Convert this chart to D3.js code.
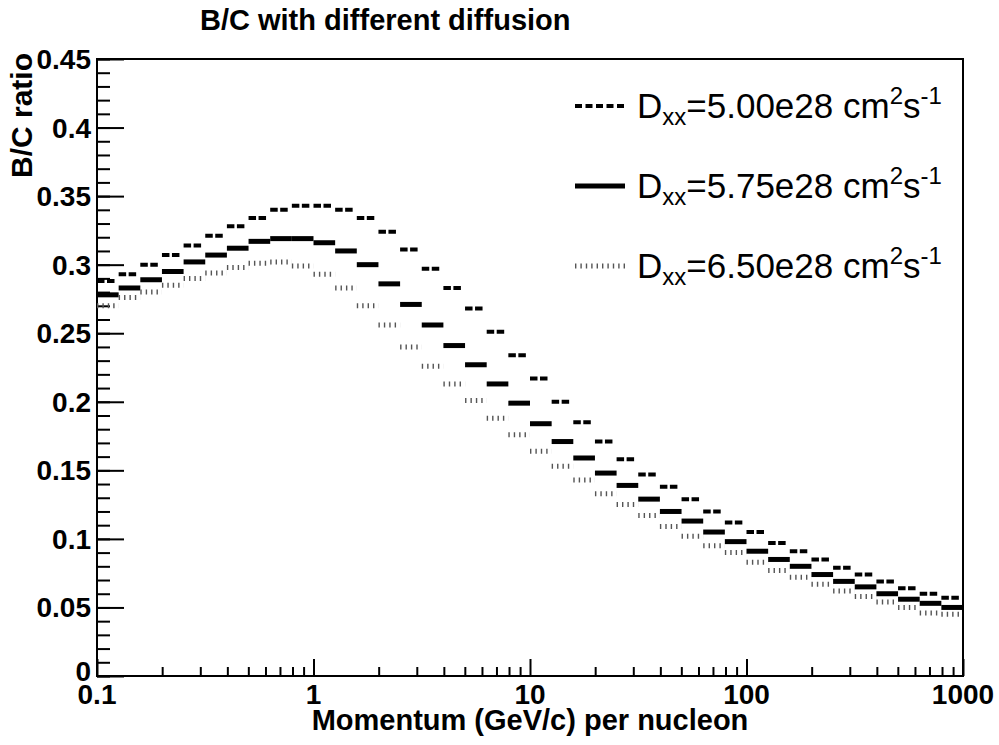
<!DOCTYPE html>
<html lang="en">
<head>
<meta charset="UTF-8">
<title>B/C with different diffusion</title>
<script src="https://d3js.org/d3.v7.min.js"></script>
<style>
    body { margin: 0; background: #fff; }
    svg { display: block; }
    text { font-family: "Liberation Sans", Arial, Helvetica, sans-serif; fill: #000; }
    .bold { font-weight: bold; }
</style>
</head>
<body>
<svg id="svg_main"></svg>
<script>
    // B/C ratio per momentum bin, 10 log bins per decade from 0.1 to 1000 GeV/c
    const bcD500 = [0.288, 0.293, 0.300, 0.307, 0.314, 0.321, 0.328, 0.334, 0.340, 0.343,
                    0.343, 0.340, 0.334, 0.324, 0.311, 0.297, 0.283, 0.268, 0.251, 0.234,
                    0.217, 0.200, 0.185, 0.171, 0.158, 0.147, 0.138, 0.129, 0.120, 0.112,
                    0.105, 0.097, 0.091, 0.085, 0.079, 0.074, 0.069, 0.064, 0.060, 0.057];
    const bcD575 = [0.278, 0.283, 0.289, 0.295, 0.302, 0.307, 0.312, 0.317, 0.319, 0.319,
                    0.316, 0.310, 0.300, 0.286, 0.271, 0.256, 0.241, 0.227, 0.213, 0.199,
                    0.184, 0.171, 0.159, 0.148, 0.139, 0.129, 0.120, 0.113, 0.105, 0.098,
                    0.091, 0.085, 0.080, 0.074, 0.069, 0.065, 0.060, 0.056, 0.053, 0.050];
    const bcD650 = [0.270, 0.276, 0.280, 0.285, 0.290, 0.294, 0.298, 0.301, 0.302, 0.299,
                    0.293, 0.283, 0.270, 0.256, 0.240, 0.226, 0.213, 0.201, 0.188, 0.176,
                    0.164, 0.153, 0.143, 0.133, 0.125, 0.117, 0.109, 0.102, 0.095, 0.090,
                    0.083, 0.077, 0.072, 0.067, 0.062, 0.058, 0.054, 0.050, 0.046, 0.045];
    const dxxLabels = ["5.00e28", "5.75e28", "6.50e28"];
    const xTicks = [0.1, 1, 10, 100, 1000];
    const xTickLabels = ["0.1", "1", "10", "100", "1000"];
    const yTicks = [0, 0.05, 0.1, 0.15, 0.2, 0.25, 0.3, 0.35, 0.4, 0.45];
    const yTickLabels = ["0", "0.05", "0.1", "0.15", "0.2", "0.25", "0.3", "0.35", "0.4", "0.45"];

    const width = 999, height = 745;
    const frameL = 97, frameR = 963, frameT = 59, frameB = 676;
    const pMin = 0.1, pMax = 1000, nBins = bcD500.length;

    const svg = d3.select("#svg_main").attr("width", width).attr("height", height);

    const x = d3.scaleLog().domain([pMin, pMax]).range([frameL, frameR]);
    const y = d3.scaleLinear().domain([0, 0.45]).range([frameB, frameT]);

    // bin edges, evenly spaced in log p
    const logStep = (Math.log10(pMax) - Math.log10(pMin)) / nBins;
    const binLo = i => Math.pow(10, Math.log10(pMin) + i * logStep);
    const binHi = i => Math.pow(10, Math.log10(pMin) + (i + 1) * logStep);

    const styles = [
        { data: bcD500, width: 4, dash: "7.5,2.5,7.5,4.2", legendDash: "7,3.5", color: "#000" },
        { data: bcD575, width: 5, dash: null, legendDash: null, color: "#000" },
        { data: bcD650, width: 5, dash: "1.4,4", legendDash: "1.4,4", color: "#555" }
    ];

    // minor ticks
    const xMinor = [];
    [0.1, 1, 10, 100].forEach(d => { for (let k = 2; k <= 9; k++) xMinor.push(d * k); });
    const yMinor = d3.range(0, 46).map(d => d / 100);

    svg.append("g").attr("transform", `translate(0,${frameB})`)
        .call(d3.axisBottom(x).tickValues(xMinor).tickSize(-9).tickFormat(""))
        .call(g => g.select(".domain").remove());
    svg.append("g").attr("transform", `translate(0,${frameB})`)
        .call(d3.axisBottom(x).tickValues(xTicks).tickSize(-17).tickFormat(""))
        .call(g => g.select(".domain").remove());
    svg.append("g").attr("transform", `translate(${frameL},0)`)
        .call(d3.axisLeft(y).tickValues(yMinor).tickSize(-13).tickFormat(""))
        .call(g => g.select(".domain").remove());
    svg.append("g").attr("transform", `translate(${frameL},0)`)
        .call(d3.axisLeft(y).tickValues(yTicks).tickSize(-27).tickFormat(""))
        .call(g => g.select(".domain").remove());
    svg.selectAll(".tick line").attr("stroke", "#000").attr("stroke-width", 2);

    // frame
    svg.append("rect")
        .attr("x", frameL).attr("y", frameT)
        .attr("width", frameR - frameL).attr("height", frameB - frameT)
        .attr("fill", "none").attr("stroke", "#000").attr("stroke-width", 2);

    // histogram bins as horizontal segments
    styles.forEach(s => {
        svg.append("g").selectAll("line")
            .data(s.data)
            .enter()
            .append("line")
            .attr("x1", (d, i) => x(binLo(i)))
            .attr("x2", (d, i) => x(binHi(i)))
            .attr("y1", d => y(d))
            .attr("y2", d => y(d))
            .attr("stroke", s.color)
            .attr("stroke-width", s.width)
            .attr("stroke-dasharray", s.dash);
    });

    // tick labels
    svg.append("g").selectAll("text")
        .data(xTicks)
        .enter()
        .append("text")
        .attr("class", "bold")
        .attr("x", d => x(d))
        .attr("y", 704)
        .attr("text-anchor", "middle")
        .attr("font-size", 28)
        .text((d, i) => xTickLabels[i]);

    svg.append("g").selectAll("text")
        .data(yTicks)
        .enter()
        .append("text")
        .attr("class", "bold")
        .attr("x", 91)
        .attr("y", d => y(d) + (d === 0 ? 5 : 10))
        .attr("text-anchor", "end")
        .attr("font-size", 28)
        .text((d, i) => yTickLabels[i]);

    // titles
    svg.append("text").attr("class", "bold")
        .attr("x", 200).attr("y", 30)
        .attr("font-size", 29)
        .text("B/C with different diffusion");

    svg.append("text").attr("class", "bold")
        .attr("x", (frameL + frameR) / 2).attr("y", 730)
        .attr("text-anchor", "middle")
        .attr("font-size", 29)
        .text("Momentum (GeV/c) per nucleon");

    svg.append("text").attr("class", "bold")
        .attr("transform", "translate(32,53) rotate(-90)")
        .attr("text-anchor", "end")
        .attr("font-size", 30)
        .text("B/C ratio");

    // legend
    const legendY = [106, 186, 266];
    const legend = svg.append("g");
    styles.forEach((s, i) => {
        legend.append("line")
            .attr("x1", 575).attr("x2", 625)
            .attr("y1", legendY[i]).attr("y2", legendY[i])
            .attr("stroke", s.color)
            .attr("stroke-width", s.width)
            .attr("stroke-dasharray", s.legendDash);

        const t = legend.append("text")
            .attr("x", 637).attr("y", legendY[i] + 12)
            .attr("font-size", 35);
        t.append("tspan").text("D");
        t.append("tspan").attr("dy", 7).attr("font-size", 24).text("xx");
        t.append("tspan").attr("dy", -7).text(`=${dxxLabels[i]} cm`);
        t.append("tspan").attr("dy", -14).attr("font-size", 24).text("2");
        t.append("tspan").attr("dy", 14).text("s");
        t.append("tspan").attr("dy", -14).attr("font-size", 24).text("-1");
    });
</script>
</body>
</html>
